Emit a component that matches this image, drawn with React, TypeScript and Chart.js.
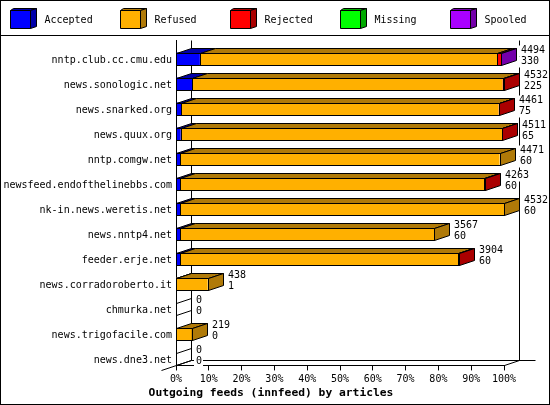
import { useEffect, useRef } from 'react';
import { Chart, registerables } from 'chart.js';

Chart.register(...registerables);

const hosts = [
  'nntp.club.cc.cmu.edu',
  'news.sonologic.net',
  'news.snarked.org',
  'news.quux.org',
  'nntp.comgw.net',
  'newsfeed.endofthelinebbs.com',
  'nk-in.news.weretis.net',
  'news.nntp4.net',
  'feeder.erje.net',
  'news.corradoroberto.it',
  'chmurka.net',
  'news.trigofacile.com',
  'news.dne3.net',
];

// percent of the biggest feed
const accepted = [7.28, 4.96, 1.65, 1.43, 1.32, 1.32, 1.32, 1.32, 1.32, 0.02, 0, 0, 0];
const refused = [90.7, 94.59, 96.68, 98.01, 97.33, 92.64, 98.68, 77.39, 84.72, 9.64, 0, 4.83, 0];
const rejected = [1.1, 0.45, 0.1, 0.1, 0, 0.1, 0, 0, 0.1, 0, 0, 0, 0];
const missing = [0, 0, 0, 0, 0, 0, 0, 0, 0, 0, 0, 0, 0];
const spooled = [0.08, 0, 0, 0, 0, 0, 0, 0, 0, 0, 0, 0, 0];

const offeredLabels = ['4494', '4532', '4461', '4511', '4471', '4263', '4532', '3567', '3904', '438', '0', '219', '0'];
const acceptedLabels = ['330', '225', '75', '65', '60', '60', '60', '60', '60', '1', '0', '0', '0'];

const seriesNames = ['Accepted', 'Refused', 'Rejected', 'Missing', 'Spooled'];
const frontColors = ['#0000ff', '#ffb000', '#ff0000', '#00ff00', '#aa00ff'];
const sideColors = ['#0000aa', '#b07a08', '#aa0000', '#00aa00', '#7400aa'];
const seriesValues = [accepted, refused, rejected, missing, spooled];

const MONO = '"DejaVu Sans Mono", monospace';
const DX = 15;
const DY = 5;

function poly(ctx: CanvasRenderingContext2D, pts: number[][], fill: string | null) {
  ctx.beginPath();
  pts.forEach((p, i) => (i ? ctx.lineTo(p[0], p[1]) : ctx.moveTo(p[0], p[1])));
  ctx.closePath();
  if (fill) {
    ctx.fillStyle = fill;
    ctx.fill();
  }
  ctx.stroke();
}

const frame3d = {
  id: 'frame3d',
  beforeDatasetsDraw(chart: any) {
    const { ctx, chartArea: a } = chart;
    const l = Math.floor(a.left) + 0.5;
    const r = Math.floor(a.right) + 0.5;
    const b = Math.floor(a.bottom) + 0.5;
    const t = Math.floor(a.top) + 0.5;
    ctx.save();
    ctx.strokeStyle = '#000';
    ctx.lineWidth = 1;
    ctx.beginPath();
    // back wall
    ctx.moveTo(l + DX, t);
    ctx.lineTo(l + DX, b - DY);
    ctx.lineTo(r + DX + 16, b - DY);
    ctx.moveTo(r + DX, t);
    ctx.lineTo(r + DX, b - DY);
    // floor edges
    ctx.moveTo(l - 15, b + DY);
    ctx.lineTo(l + DX, b - DY);
    ctx.moveTo(r, b);
    ctx.lineTo(r + DX, b - DY);
    ctx.stroke();
    ctx.restore();
  },
  afterDatasetsDraw(chart: any) {
    const { ctx, chartArea: a } = chart;
    const metas = seriesNames.map((_, i) => chart.getDatasetMeta(i + 1));
    ctx.save();
    ctx.strokeStyle = '#000';
    ctx.lineWidth = 1;
    hosts.forEach((_, row) => {
      const first = metas[0].data[row].getProps(['y', 'height'], true);
      const top = Math.round(first.y - first.height / 2) + 0.5;
      const bottom = Math.round(first.y + first.height / 2) + 0.5;
      let start = Math.floor(a.left) + 0.5;
      let lastIdx = -1;
      metas.forEach((meta, s) => {
        if (seriesValues[s][row] <= 0) return;
        const bar = meta.data[row].getProps(['x'], true);
        const end = Math.round(bar.x) + 0.5;
        poly(ctx, [[start, top], [start + DX, top - DY], [end + DX, top - DY], [end, top]], sideColors[s]);
        ctx.strokeRect(start, top, end - start, bottom - top);
        start = end;
        lastIdx = s;
      });
      const side = lastIdx >= 0 ? sideColors[lastIdx] : null;
      if (side) {
        poly(ctx, [[start, top], [start + DX, top - DY], [start + DX, bottom - DY], [start, bottom]], side);
      } else {
        ctx.beginPath();
        ctx.moveTo(start, top);
        ctx.lineTo(start + DX, top - DY);
        ctx.moveTo(start, bottom);
        ctx.lineTo(start + DX, bottom - DY);
        ctx.stroke();
      }
      // value labels, on a white box like the original
      const lx = start + DX + 4.5;
      const cy = (top + bottom) / 2;
      ctx.font = `10px ${MONO}`;
      ctx.textBaseline = 'middle';
      ctx.textAlign = 'left';
      [offeredLabels[row], acceptedLabels[row]].forEach((txt, k) => {
        const ly = cy + (k ? 2 : -9);
        const w = ctx.measureText(txt).width;
        ctx.fillStyle = '#fff';
        ctx.fillRect(lx - 2, ly - 5, w + 3, 11);
        ctx.fillStyle = '#000';
        ctx.fillText(txt, lx, ly);
      });
    });
    ctx.restore();
  },
  afterDraw(chart: any) {
    const { ctx, width, height } = chart;
    ctx.save();
    ctx.strokeStyle = '#000';
    ctx.lineWidth = 1;
    ctx.strokeRect(0.5, 0.5, width - 1, height - 1);
    ctx.beginPath();
    ctx.moveTo(0, 35.5);
    ctx.lineTo(width, 35.5);
    ctx.stroke();
    // legend with little boxes
    ctx.font = `10px ${MONO}`;
    ctx.textBaseline = 'middle';
    ctx.textAlign = 'left';
    seriesNames.forEach((name, i) => {
      const x = 10.5 + i * 110;
      const y = 10.5;
      const w = 20;
      const h = 18;
      poly(ctx, [[x, y], [x + 3, y - 2], [x + w + 6, y - 2], [x + w, y]], sideColors[i]);
      poly(ctx, [[x + w, y], [x + w + 6, y - 2], [x + w + 6, y + h - 2], [x + w, y + h]], sideColors[i]);
      poly(ctx, [[x, y], [x + w, y], [x + w, y + h], [x, y + h]], frontColors[i]);
      ctx.fillStyle = '#000';
      ctx.fillText(name, x + 34, 20);
    });
    ctx.restore();
  },
};

export default function App() {
  const canvasRef = useRef<HTMLCanvasElement>(null);

  useEffect(() => {
    document.body.style.margin = '0';
    const ctx = canvasRef.current?.getContext('2d');
    if (!ctx) return;

    const chart = new Chart(ctx, {
      type: 'bar',
      data: {
        labels: hosts,
        datasets: [
          // empty group, pushes the real bars into the lower half of each band
          { label: 'gap', data: hosts.map(() => 0), stack: 'gap', backgroundColor: 'transparent' },
          ...seriesNames.map((name, i) => ({
            label: name,
            data: seriesValues[i],
            stack: 'feeds',
            backgroundColor: frontColors[i],
          })),
        ],
      },
      options: {
        indexAxis: 'y',
        animation: false,
        responsive: false,
        devicePixelRatio: 1,
        layout: { padding: { top: 40, right: 8, left: 0, bottom: 0 } },
        datasets: { bar: { categoryPercentage: 1, barPercentage: 1, borderWidth: 0, inflateAmount: 0 } },
        scales: {
          x: {
            stacked: true,
            min: 0,
            max: 100,
            afterFit: (scale: any) => {
              scale.height = 21;
            },
            grid: { drawOnChartArea: false, tickLength: 5, tickColor: '#000' },
            border: { display: true, color: '#000' },
            ticks: {
              stepSize: 10,
              autoSkip: false,
              maxRotation: 0,
              padding: 3,
              color: '#000',
              font: { family: MONO, size: 10 },
              callback: (v: any) => `${v}%`,
            },
          },
          y: {
            stacked: true,
            afterFit: (scale: any) => {
              scale.width = 176;
            },
            grid: { display: false, drawTicks: false },
            border: { display: true, color: '#000' },
            ticks: {
              autoSkip: false,
              padding: 4,
              labelOffset: 7.5,
              color: '#000',
              font: { family: MONO, size: 10 },
            },
          },
          // empty axis, only holds the room on the right so the title stays centred on the page
          spacer: {
            type: 'linear',
            axis: 'y',
            position: 'right',
            afterFit: (scale: any) => {
              scale.width = 38;
            },
            grid: { display: false },
            border: { display: false },
            ticks: { display: false },
          },
        },
        plugins: {
          legend: { display: false },
          tooltip: { enabled: false },
          title: {
            display: true,
            position: 'bottom',
            text: 'Outgoing feeds (innfeed) by articles',
            color: '#000',
            padding: { top: 0, bottom: 5 },
            font: { family: MONO, size: 11.3, weight: 'bold', lineHeight: 1.2 },
          },
        },
      } as any,
      plugins: [frame3d],
    });

    return () => chart.destroy();
  }, []);

  return <canvas ref={canvasRef} width={550} height={405} style={{ display: 'block' }} />;
}
